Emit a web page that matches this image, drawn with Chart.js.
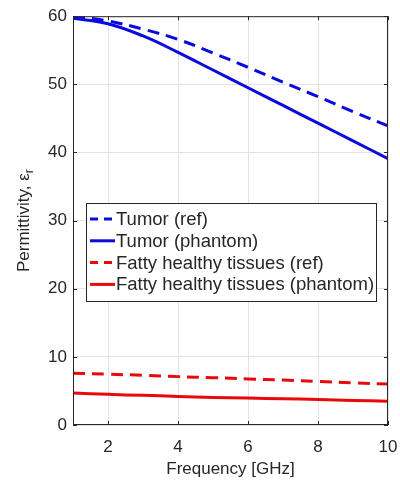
<!DOCTYPE html>
<html>
<head>
<meta charset="utf-8">
<script src="https://cdn.jsdelivr.net/npm/chart.js@4"></script>
<style>
  html, body { margin: 0; padding: 0; background: #fff; }
  #wrap { width: 400px; height: 480px; }
</style>
</head>
<body>
<div id="wrap"><canvas id="myChart"></canvas></div>
<script>
// frequency points [GHz]
const freqs = [1, 2, 3, 4, 5, 6, 7, 8, 9, 10];
// permittivity values
const tumorRef = [60.0, 59.3, 58.1, 56.6, 54.6, 52.5, 50.3, 48.2, 46.0, 43.9];
const tumorPhantom = [59.7, 58.9, 57.1, 54.7, 52.1, 49.5, 46.9, 44.3, 41.7, 39.1];
const fattyRef = [7.6, 7.45, 7.3, 7.1, 6.95, 6.75, 6.6, 6.4, 6.2, 6.0];
const fattyPhantom = [4.7, 4.5, 4.35, 4.2, 4.05, 3.95, 3.85, 3.75, 3.6, 3.5];
const xTicks = [2, 4, 6, 8, 10];
const yTicks = [0, 10, 20, 30, 40, 50, 60];

const BLUE = '#0a0ae0';
const RED = '#e80a0a';
const AXIS = '#262626';
const FONT = "'Liberation Sans', Arial, sans-serif";

function pts(ys) {
    return freqs.map((f, i) => ({ x: f, y: ys[i] }));
}

function line(label, ys, color, dashed) {
    return {
        label: label,
        data: pts(ys),
        borderColor: color,
        backgroundColor: color,
        borderWidth: 3,
        borderDash: dashed ? [12, 7] : [],
        pointRadius: 0,
        tension: 0.4,
        fill: false
    };
}

// box, inward ticks, axis titles and in-plot legend (MATLAB look)
const matlabLook = {
    id: 'matlabLook',
    afterDraw(chart) {
        const c = chart.ctx;
        const a = chart.chartArea;
        const xs = chart.scales.x, ys = chart.scales.y;
        c.save();
        c.strokeStyle = AXIS;
        c.lineWidth = 1;
        c.setLineDash([]);
        c.strokeRect(a.left + 0.5, a.top + 0.5, a.right - a.left - 1, a.bottom - a.top - 1);
        c.beginPath();
        xTicks.forEach(v => {
            const px = Math.round(xs.getPixelForValue(v)) + 0.5;
            c.moveTo(px, a.bottom); c.lineTo(px, a.bottom - 4);
            c.moveTo(px, a.top); c.lineTo(px, a.top + 4);
        });
        yTicks.forEach(v => {
            const py = Math.round(ys.getPixelForValue(v)) + 0.5;
            c.moveTo(a.left, py); c.lineTo(a.left + 4, py);
            c.moveTo(a.right, py); c.lineTo(a.right - 4, py);
        });
        c.stroke();

        // axis titles
        c.fillStyle = AXIS;
        c.font = '17px ' + FONT;
        c.textAlign = 'center';
        c.textBaseline = 'middle';
        c.fillText('Frequency [GHz]', (a.left + a.right) / 2, 469);

        c.save();
        c.translate(24, (a.top + a.bottom) / 2);
        c.rotate(-Math.PI / 2);
        const main = 'Permittivity, \u03b5';
        const w1 = c.measureText(main).width;
        c.font = '12px ' + FONT;
        const w2 = c.measureText('r').width;
        const start = -(w1 + w2) / 2;
        c.textAlign = 'left';
        c.font = '17px ' + FONT;
        c.fillText(main, start, 0);
        c.font = '12px ' + FONT;
        c.fillText('r', start + w1, 6);
        c.restore();

        // legend
        const bx = 86, by = 203, bw = 290, bh = 98;
        c.fillStyle = '#fff';
        c.fillRect(bx, by, bw, bh);
        c.strokeStyle = AXIS;
        c.strokeRect(bx + 0.5, by + 0.5, bw, bh);
        c.font = '18.5px ' + FONT;
        c.textAlign = 'left';
        c.textBaseline = 'middle';
        chart.data.datasets.forEach((ds, i) => {
            const y = 219 + i * 21.8;
            c.strokeStyle = ds.borderColor;
            c.lineWidth = 3;
            c.setLineDash(ds.borderDash.length ? [8, 6] : []);
            c.beginPath();
            c.moveTo(90, y); c.lineTo(115, y);
            c.stroke();
            c.fillStyle = AXIS;
            c.fillText(ds.label, 116, y + 1);
        });
        c.restore();
    }
};

const ctx = document.getElementById('myChart');
new Chart(ctx, {
    type: 'line',
    data: {
        datasets: [
            line('Tumor (ref)', tumorRef, BLUE, true),
            line('Tumor (phantom)', tumorPhantom, BLUE, false),
            line('Fatty healthy tissues (ref)', fattyRef, RED, true),
            line('Fatty healthy tissues (phantom)', fattyPhantom, RED, false)
        ]
    },
    options: {
        responsive: true,
        maintainAspectRatio: false,
        animation: false,
        layout: { padding: { top: 12, right: 12, left: 0, bottom: 0 } },
        scales: {
            x: {
                type: 'linear',
                min: 1,
                max: 10,
                afterBuildTicks: s => { s.ticks = xTicks.map(v => ({ value: v })); },
                afterFit: s => { s.height = 55; s.paddingRight = 0; s.paddingLeft = 0; },
                grid: { color: '#e3e3e3', drawTicks: false },
                border: { display: false },
                ticks: {
                    padding: 12,
                    color: AXIS,
                    maxRotation: 0,
                    font: { family: FONT, size: 17 }
                }
            },
            y: {
                min: 0,
                max: 60,
                afterBuildTicks: s => { s.ticks = yTicks.map(v => ({ value: v })); },
                afterFit: s => { s.width = 73; },
                grid: { color: '#e3e3e3', drawTicks: false },
                border: { display: false },
                ticks: {
                    padding: 6,
                    color: AXIS,
                    font: { family: FONT, size: 17 }
                }
            }
        },
        plugins: {
            legend: { display: false },
            tooltip: { enabled: false }
        }
    },
    plugins: [matlabLook]
});
</script>
</body>
</html>
